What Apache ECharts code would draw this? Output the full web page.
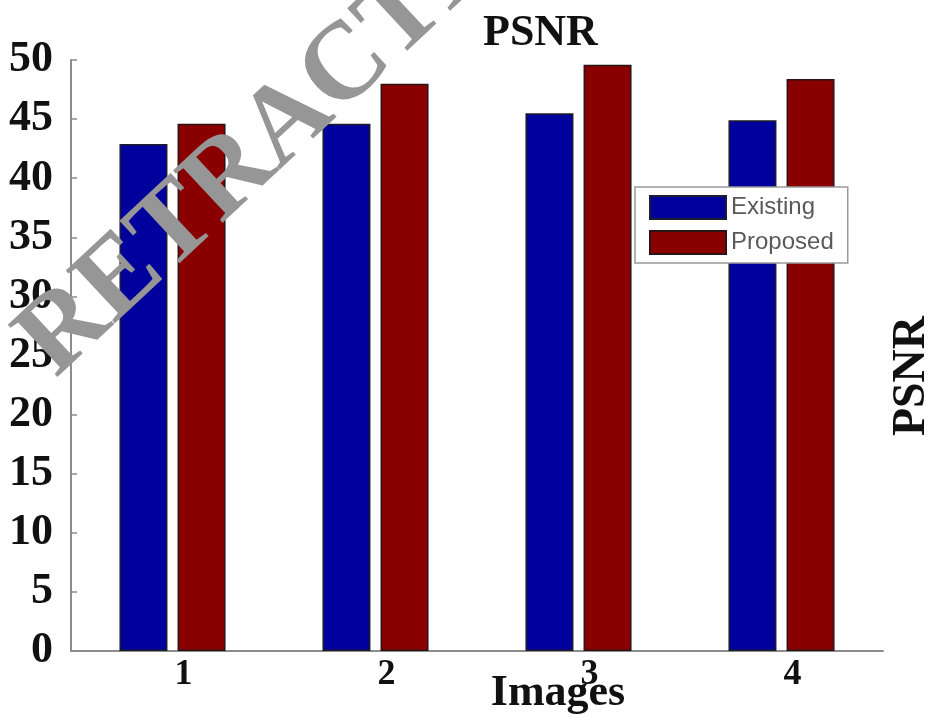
<!DOCTYPE html>
<html>
<head>
<meta charset="utf-8">
<script src="https://cdn.jsdelivr.net/npm/echarts@6/dist/echarts.min.js"></script>
<style>
  html, body { margin: 0; padding: 0; background: #fff; }
  #chart { width: 936px; height: 718px; }
</style>
</head>
<body>
<div id="chart"></div>
<script>
// PSNR per test image, existing method vs proposed method
const images = ['1', '2', '3', '4'];
const existing = [42.9, 44.6, 45.5, 44.9];
const proposed = [44.6, 48.0, 49.6, 48.4];
const seriesNames = ['Existing', 'Proposed'];

const serif = '"Liberation Serif", "Times New Roman", serif';
const sans = '"Liberation Sans", Arial, sans-serif';
const axisGray = '#8c8c8c';

const chart = echarts.init(document.getElementById('chart'), null, { renderer: 'canvas' });

chart.setOption({
  backgroundColor: '#ffffff',
  animation: false,
  title: {
    text: 'PSNR',
    left: 478,
    top: 7,
    textStyle: { fontFamily: serif, fontSize: 44, fontWeight: 'bold', color: '#111' }
  },
  legend: {
    data: seriesNames,
    orient: 'vertical',
    left: 635,
    top: 187,
    icon: 'rect',
    itemWidth: 76,
    itemHeight: 23,
    itemGap: 10,
    padding: [8, 14, 8, 14],
    backgroundColor: '#ffffff',
    borderColor: '#9a9a9a',
    borderWidth: 1.5,
    textStyle: { fontFamily: sans, fontSize: 24, color: '#5a5a5a' }
  },
  grid: { left: 71, right: 53, top: 60, bottom: 67, containLabel: false },
  xAxis: {
    type: 'category',
    data: images,
    axisLine: { lineStyle: { color: axisGray, width: 2 } },
    axisTick: { show: false },
    axisLabel: {
      fontFamily: serif, fontSize: 36, fontWeight: 'bold', color: '#111',
      margin: 6, padding: [0, 0, 0, 22]
    }
  },
  yAxis: {
    type: 'value',
    min: 0,
    max: 50,
    interval: 5,
    axisLine: { show: true, lineStyle: { color: axisGray, width: 2 } },
    axisTick: { show: true, inside: true, length: 6, lineStyle: { color: axisGray, width: 1.5 } },
    splitLine: { show: false },
    axisLabel: { fontFamily: serif, fontSize: 44, fontWeight: 'bold', color: '#111', margin: 18 }
  },
  series: [
    {
      name: seriesNames[0],
      type: 'bar',
      data: existing,
      barWidth: 48,
      barGap: '21%',
      itemStyle: { color: '#00009c', borderColor: '#1c1c2a', borderWidth: 1.5 }
    },
    {
      name: seriesNames[1],
      type: 'bar',
      data: proposed,
      barWidth: 48,
      itemStyle: { color: '#8a0000', borderColor: '#2a1414', borderWidth: 1.5 }
    }
  ],
  graphic: [
    {
      type: 'text',
      x: 558,
      y: 694,
      style: {
        text: 'Images',
        font: 'bold 44px ' + serif,
        fill: '#111',
        align: 'center',
        verticalAlign: 'middle'
      }
    },
    {
      type: 'text',
      x: 912,
      y: 376,
      rotation: Math.PI / 2,
      style: {
        text: 'PSNR',
        font: 'bold 46px ' + serif,
        fill: '#111',
        align: 'center',
        verticalAlign: 'middle'
      }
    },
    {
      // diagonal watermark over the plot
      type: 'text',
      x: 36,
      y: 358,
      rotation: 43 * Math.PI / 180,
      z: 100,
      style: {
        text: 'RETRACTED',
        font: 'bold 110px ' + serif,
        fill: '#969696',
        align: 'left',
        verticalAlign: 'middle'
      }
    }
  ]
});
</script>
</body>
</html>
